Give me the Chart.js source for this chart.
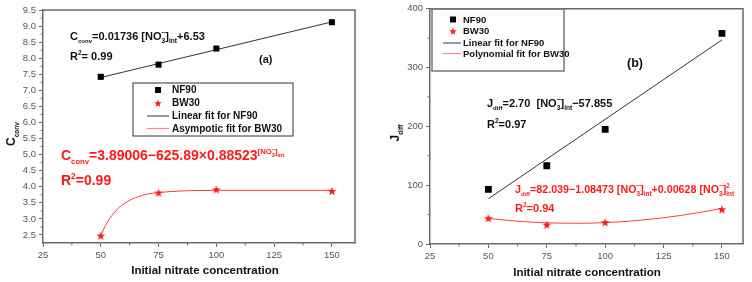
<!DOCTYPE html>
<html lang="en">
<head>
<meta charset="UTF-8">
<title>Nitrate concentration fits</title>
<script src="https://cdn.jsdelivr.net/npm/chart.js"></script>
<style>
  body { margin: 0; background: #fff; }
  .wrap { position: relative; width: 752px; height: 282px; }
  #chartA { position: absolute; left: 0; top: 0; }
  #chartB { position: absolute; left: 372px; top: 0; }
</style>
</head>
<body>
<div class="wrap">
  <canvas id="chartA" width="372" height="282"></canvas>
  <canvas id="chartB" width="380" height="282"></canvas>
</div>
<script>
// values
var concentrations = [50, 75, 100, 150];

// (a) C_conv
var convNF90 = [7.42, 7.80, 8.30, 9.12];
var convBW30 = [2.48, 3.82, 3.92, 3.87];
var convLinX = [50, 150];
var convLinY = [7.40, 9.13];
var convAsymX = [50, 52, 55, 58, 60, 63, 65, 68, 70, 75, 80, 85, 90, 100, 110, 120, 130, 140, 150];
var convAsymY = [2.48, 2.79, 3.12, 3.36, 3.47, 3.60, 3.66, 3.73, 3.77, 3.82, 3.85, 3.87, 3.88, 3.89, 3.89, 3.89, 3.89, 3.89, 3.89];

// (b) J_diff
var diffNF90 = [93, 133, 195, 358];
var diffBW30 = [44, 33, 37, 59];
var diffLinX = [50, 150];
var diffLinY = [77, 347];
var diffPolyX = [50, 60, 70, 80, 90, 100, 110, 125, 140, 150];
var diffPolyY = [43.5, 39.6, 36.9, 35.5, 35.3, 36.4, 38.7, 44.6, 53.3, 60.6];

// ticks
var xTicks = [25, 50, 75, 100, 125, 150];
var convTicks = [2.5, 3.0, 3.5, 4.0, 4.5, 5.0, 5.5, 6.0, 6.5, 7.0, 7.5, 8.0, 8.5, 9.0, 9.5];
var diffTicks = [0, 100, 200, 300, 400];

var FONT = 'Arial, "Liberation Sans", sans-serif';

function pts(xs, ys) {
  return xs.map(function (x, i) { return { x: x, y: ys[i] }; });
}

function midpoints(arr) {
  var out = [];
  for (var i = 0; i < arr.length - 1; i++) out.push((arr[i] + arr[i + 1]) / 2);
  return out;
}

function starImage(r, color) {
  var c = document.createElement('canvas');
  c.width = c.height = Math.ceil(r * 2) + 2;
  var g = c.getContext('2d'), m = c.width / 2;
  g.beginPath();
  for (var i = 0; i < 10; i++) {
    var a = -Math.PI / 2 + i * Math.PI / 5, rr = i % 2 ? r * 0.42 : r;
    g.lineTo(m + rr * Math.cos(a), m + 0.5 + rr * Math.sin(a));
  }
  g.closePath();
  g.fillStyle = color;
  g.fill();
  return c;
}

var redStar = starImage(4.6, '#ff1a1a');
var legendStar = starImage(4, '#ff1a1a');

// text with sub/superscripts: each part = [text, sizeScale, dyScale, stackOnPrevious]
function rich(ctx, x, y, parts, size, color, dry) {
  var x0 = x, back = x;
  ctx.save();
  ctx.fillStyle = color;
  ctx.textAlign = 'left';
  ctx.textBaseline = 'alphabetic';
  parts.forEach(function (p) {
    var s = size * (p[1] || 1), dy = size * (p[2] || 0);
    ctx.font = 'bold ' + s + 'px ' + FONT;
    var w = ctx.measureText(p[0]).width;
    var px = p[3] ? back : x;
    if (!dry) ctx.fillText(p[0], px, y + dy);
    if (p[3]) { x = Math.max(x, px + w); } else { back = x; x += w; }
  });
  ctx.restore();
  return x - x0;
}

function no3(sq) {
  var p = [['[NO'], ['3', 0.6, 0.3], ['\u2212', 0.6, -0.45, 1], [']'], ['int', 0.6, 0.3]];
  if (sq) p.push(['2', 0.6, -0.5, 1]);
  return p;
}

var figurePlugin = {
  id: 'figure',
  afterDraw: function (chart, args, o) {
    var ctx = chart.ctx, a = chart.chartArea;
    var xs = chart.scales.x, ys = chart.scales.y;
    ctx.save();
    // top and right frame
    ctx.strokeStyle = '#6a6a6a';
    ctx.lineWidth = 1.5;
    ctx.beginPath();
    ctx.moveTo(a.left, a.top);
    ctx.lineTo(a.right, a.top);
    ctx.lineTo(a.right, a.bottom);
    ctx.stroke();
    // minor ticks
    ctx.lineWidth = 1;
    ctx.beginPath();
    o.minorX.forEach(function (v) {
      var px = xs.getPixelForValue(v);
      if (px < a.right) { ctx.moveTo(px, a.bottom); ctx.lineTo(px, a.bottom + 2.5); }
    });
    o.minorY.forEach(function (v) {
      var py = ys.getPixelForValue(v);
      if (py > a.top && py < a.bottom) { ctx.moveTo(a.left, py); ctx.lineTo(a.left - 2.5, py); }
    });
    ctx.stroke();

    // legend
    var L = o.legend;
    ctx.strokeStyle = L.border;
    ctx.lineWidth = L.lw;
    ctx.strokeRect(L.x, L.y, L.w, L.h);
    var lineColors = ['', '', '#555', '#ff8a8a'];
    chart.data.datasets.forEach(function (ds, i) {
      var y = L.rows[i];
      if (ds.showLine) {
        ctx.strokeStyle = lineColors[i];
        ctx.lineWidth = 1.2;
        ctx.beginPath();
        ctx.moveTo(L.lineFrom, y);
        ctx.lineTo(L.lineTo, y);
        ctx.stroke();
      } else if (ds.pointStyle === 'rect') {
        ctx.fillStyle = '#000';
        ctx.fillRect(L.sym - 3, y - 3, 6, 6);
      } else {
        ctx.drawImage(legendStar, L.sym - legendStar.width / 2, y - legendStar.height / 2);
      }
      ctx.fillStyle = '#111';
      ctx.font = 'bold ' + L.size + 'px ' + FONT;
      ctx.textBaseline = 'middle';
      ctx.textAlign = 'left';
      ctx.fillText(ds.label, L.text, y + 0.5);
    });

    // equations
    o.notes.forEach(function (n) { rich(ctx, n.x, n.y, n.parts, n.size, n.color); });

    // axis titles
    var t = o.yTitle;
    var w = rich(ctx, 0, 0, t.parts, t.size, '#111', true);
    ctx.save();
    ctx.translate(t.x, t.y);
    ctx.rotate(-Math.PI / 2);
    rich(ctx, -w / 2, t.size * 0.35, t.parts, t.size, '#111');
    ctx.restore();
    ctx.fillStyle = '#111';
    ctx.font = 'bold 11.5px ' + FONT;
    ctx.textAlign = 'center';
    ctx.textBaseline = 'alphabetic';
    ctx.fillText('Initial nitrate concentration', o.xTitle.x, o.xTitle.y);
    ctx.restore();
  }
};

function makeChart(id, cfg) {
  return new Chart(document.getElementById(id), {
    type: 'scatter',
    data: {
      datasets: [
        { label: 'NF90', data: pts(concentrations, cfg.nf90), pointStyle: 'rect', pointRadius: cfg.sq,
          backgroundColor: '#000', borderColor: '#000', borderWidth: 0, order: 0 },
        { label: 'BW30', data: pts(concentrations, cfg.bw30), pointStyle: redStar, order: 0 },
        { label: cfg.linLabel, data: pts(cfg.linX, cfg.linY), showLine: true, pointRadius: 0,
          borderColor: '#333', borderWidth: 1, order: 1 },
        { label: cfg.fitLabel, data: pts(cfg.fitX, cfg.fitY), showLine: true, pointRadius: 0,
          borderColor: '#ff3b3b', borderWidth: 1, cubicInterpolationMode: 'monotone', order: 1 }
      ]
    },
    options: {
      responsive: false,
      animation: false,
      events: [],
      layout: { padding: cfg.pad },
      scales: {
        x: {
          min: 25, max: cfg.xMax,
          afterBuildTicks: function (s) { s.ticks = xTicks.map(function (v) { return { value: v }; }); },
          afterFit: function (s) { s.height = cfg.xH; },
          border: { color: '#6a6a6a', width: 1.5 },
          grid: { drawOnChartArea: false, color: '#6a6a6a', tickLength: 4 },
          ticks: { color: '#555', font: { family: FONT, size: 9.5 }, padding: 3, maxRotation: 0 }
        },
        y: {
          min: cfg.yMin, max: cfg.yMax,
          afterBuildTicks: function (s) { s.ticks = cfg.yTicks.map(function (v) { return { value: v }; }); },
          afterFit: function (s) { s.width = cfg.yW; },
          border: { color: '#6a6a6a', width: 1.5 },
          grid: { drawOnChartArea: false, color: '#6a6a6a', tickLength: 4 },
          ticks: { color: '#555', font: { family: FONT, size: 9.5 }, padding: 3,
                   callback: function (v) { return cfg.dec ? v.toFixed(1) : v; } }
        }
      },
      plugins: {
        legend: { display: false },
        tooltip: { enabled: false },
        figure: {
          minorX: midpoints(xTicks),
          minorY: midpoints(cfg.yTicks),
          legend: cfg.legend,
          notes: cfg.notes,
          yTitle: cfg.yTitle,
          xTitle: cfg.xTitle
        }
      }
    },
    plugins: [figurePlugin]
  });
}

makeChart('chartA', {
  nf90: convNF90, bw30: convBW30,
  linX: convLinX, linY: convLinY, fitX: convAsymX, fitY: convAsymY,
  linLabel: 'Linear fit for NF90', fitLabel: 'Asympotic fit for BW30',
  xMax: 160, yMin: 2.25, yMax: 9.5, yTicks: convTicks, dec: true, sq: 4.3,
  pad: { top: 10, right: 17, left: 0, bottom: 0 }, xH: 39, yW: 43,
  legend: { x: 133, y: 83, w: 160, h: 53, rows: [90, 103, 116, 128.5], sym: 158,
            lineFrom: 147, lineTo: 169, text: 172, size: 10, border: '#333', lw: 1 },
  notes: [
    { x: 70, y: 40, size: 11, color: '#111',
      parts: [['C'], ['conv', 0.55, 0.3], ['=0.01736 ']].concat(no3(), [['+6.53']]) },
    { x: 70, y: 60, size: 11, color: '#111', parts: [['R'], ['2', 0.6, -0.45], ['= 0.99']] },
    { x: 259, y: 63, size: 11, color: '#111', parts: [['(a)']] },
    { x: 61, y: 160, size: 14, color: '#ff1a1a',
      parts: [['C'], ['conv', 0.55, 0.3], ['=3.89006\u2212625.89\u00d70.88523'],
              ['[NO', 0.55, -0.45], ['3', 0.4, -0.25], ['\u2212', 0.4, -0.62, 1], [']', 0.55, -0.45], ['int', 0.4, -0.25]] },
    { x: 61, y: 185, size: 14, color: '#ff1a1a', parts: [['R'], ['2', 0.6, -0.45], ['=0.99']] }
  ],
  yTitle: { x: 11, y: 134, size: 12, parts: [['C'], ['conv', 0.55, 0.3]] },
  xTitle: { x: 205, y: 274 }
});

makeChart('chartB', {
  nf90: diffNF90, bw30: diffBW30,
  linX: diffLinX, linY: diffLinY, fitX: diffPolyX, fitY: diffPolyY,
  linLabel: 'Linear fit for NF90', fitLabel: 'Polynomial fit for BW30',
  xMax: 159, yMin: 0, yMax: 400, yTicks: diffTicks, dec: false, sq: 4.8,
  pad: { top: 8, right: 9, left: 0, bottom: 0 }, xH: 38, yW: 58,
  legend: { x: 60, y: 9, w: 132, h: 62, rows: [19.5, 31, 43, 53.5], sym: 81,
            lineFrom: 71, lineTo: 89, text: 91, size: 9.5, border: '#777', lw: 1.5 },
  notes: [
    { x: 255, y: 67, size: 12.5, color: '#111', parts: [['(b)']] },
    { x: 115, y: 107, size: 11, color: '#111',
      parts: [['J'], ['diff', 0.55, 0.3], ['=2.70  ']].concat(no3(), [['\u221257.855']]) },
    { x: 115, y: 128, size: 11, color: '#111', parts: [['R'], ['2', 0.6, -0.45], ['=0.97']] },
    { x: 143, y: 193, size: 10.7, color: '#ff1a1a',
      parts: [['J'], ['diff', 0.55, 0.3], ['=82.039\u22121.08473 ']].concat(no3(), [['+0.00628 ']], no3(true)) },
    { x: 143, y: 212, size: 11, color: '#ff1a1a', parts: [['R'], ['2', 0.6, -0.45], ['=0.94']] }
  ],
  yTitle: { x: 23, y: 133, size: 12, parts: [['J'], ['diff', 0.55, 0.3]] },
  xTitle: { x: 215, y: 276 }
});
</script>
</body>
</html>
